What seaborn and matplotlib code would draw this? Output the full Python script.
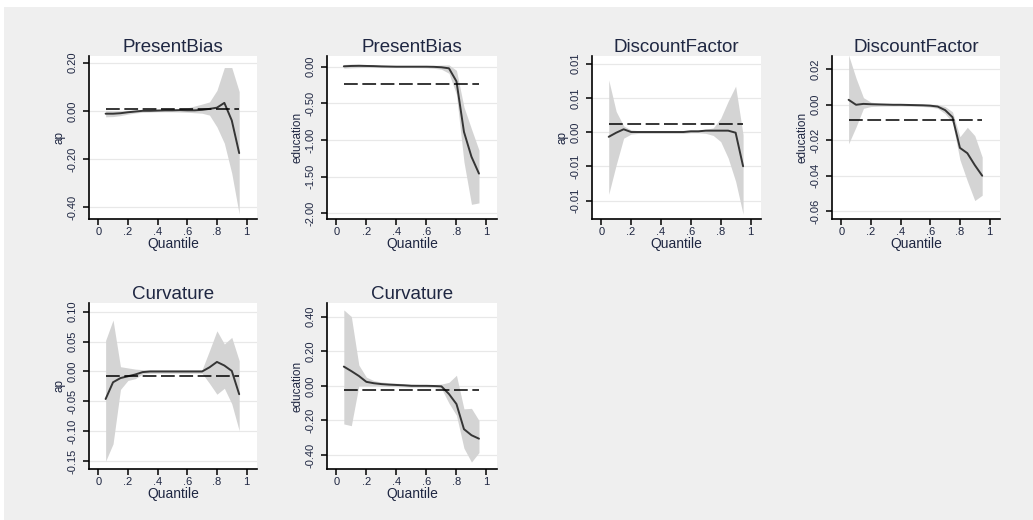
import numpy as np
import pandas as pd
import matplotlib
matplotlib.use("Agg")
import matplotlib.pyplot as plt
from matplotlib.patches import Rectangle
import seaborn as sns

# ---------------- data ----------------
quantiles = [0.05, 0.10, 0.15, 0.20, 0.25, 0.30, 0.35, 0.40, 0.45, 0.50,
             0.55, 0.60, 0.65, 0.70, 0.75, 0.80, 0.85, 0.90, 0.95]

titles = ["PresentBias", "PresentBias", "DiscountFactor", "DiscountFactor",
          "Curvature", "Curvature"]
ylabels = ["ap", "education", "ap", "education", "ap", "education"]

# Panel 1: ap, PresentBias
pb_ap_est = [-0.012, -0.012, -0.010, -0.006, -0.003, 0.000, 0.000, 0.001, 0.002, 0.002,
             0.003, 0.002, 0.002, 0.004, 0.008, 0.013, 0.033, -0.040, -0.176]
pb_ap_lo = [-0.025, -0.024, -0.020, -0.014, -0.009, -0.006, -0.005, -0.004, -0.004, -0.004,
            -0.005, -0.006, -0.008, -0.010, -0.018, -0.067, -0.135, -0.260, -0.430]
pb_ap_hi = [0.002, 0.000, 0.001, 0.002, 0.003, 0.005, 0.006, 0.007, 0.008, 0.009,
            0.010, 0.012, 0.020, 0.028, 0.037, 0.085, 0.180, 0.180, 0.080]
pb_ap_ols = 0.008

# Panel 2: education, PresentBias
pb_ed_est = [0.005, 0.010, 0.012, 0.010, 0.008, 0.004, 0.002, 0.000, 0.000, 0.000,
             0.000, 0.000, -0.002, -0.008, -0.022, -0.200, -0.890, -1.230, -1.460]
pb_ed_lo = [-0.020, -0.015, -0.012, -0.010, -0.010, -0.010, -0.012, -0.012, -0.012, -0.012,
            -0.013, -0.015, -0.022, -0.035, -0.090, -0.380, -1.300, -1.880, -1.860]
pb_ed_hi = [0.030, 0.035, 0.035, 0.030, 0.025, 0.020, 0.015, 0.012, 0.012, 0.012,
            0.013, 0.015, 0.018, 0.022, 0.025, -0.050, -0.550, -0.850, -1.140]
pb_ed_ols = -0.24

# Panel 3: ap, DiscountFactor
df_ap_est = [-0.0007, -0.0001, 0.0004, 0.0000, 0.0000, 0.0000, 0.0000, 0.0000, 0.0000, 0.0000,
             0.0000, 0.0001, 0.0001, 0.0002, 0.0002, 0.0002, 0.0002, -0.0001, -0.0050]
df_ap_lo = [-0.0091, -0.0048, -0.0009, -0.0003, -0.0002, -0.0002, -0.0002, -0.0002, -0.0002, -0.0002,
            -0.0002, -0.0001, -0.0001, -0.0002, -0.0005, -0.0014, -0.0038, -0.0072, -0.0120]
df_ap_hi = [0.0076, 0.0030, 0.0009, 0.0003, 0.0002, 0.0002, 0.0002, 0.0002, 0.0002, 0.0002,
            0.0002, 0.0003, 0.0003, 0.0004, 0.0006, 0.0020, 0.0045, 0.0067, -0.0004]
df_ap_ols = 0.0011

# Panel 4: education, DiscountFactor
df_ed_est = [0.0028, 0.0000, 0.0005, 0.0003, 0.0002, 0.0001, 0.0000, 0.0000, -0.0001, -0.0002,
             -0.0003, -0.0005, -0.0010, -0.0030, -0.0070, -0.0243, -0.0273, -0.0340, -0.0400]
df_ed_lo = [-0.0220, -0.0125, -0.0020, -0.0010, -0.0008, -0.0007, -0.0007, -0.0007, -0.0008, -0.0009,
            -0.0010, -0.0013, -0.0020, -0.0050, -0.0100, -0.0310, -0.0430, -0.0540, -0.0510]
df_ed_hi = [0.0280, 0.0150, 0.0040, 0.0015, 0.0010, 0.0008, 0.0007, 0.0007, 0.0006, 0.0005,
            0.0004, 0.0003, 0.0002, -0.0010, -0.0040, -0.0180, -0.0127, -0.0174, -0.0295]
df_ed_ols = -0.0086

# Panel 5: ap, Curvature
cu_ap_est = [-0.046, -0.018, -0.011, -0.008, -0.005, -0.001, 0.000, 0.000, 0.000, 0.000,
             0.000, 0.000, 0.000, 0.000, 0.007, 0.016, 0.010, 0.001, -0.038]
cu_ap_lo = [-0.150, -0.121, -0.030, -0.015, -0.012, -0.004, -0.003, -0.003, -0.003, -0.003,
            -0.003, -0.003, -0.003, -0.003, -0.020, -0.038, -0.028, -0.054, -0.099]
cu_ap_hi = [0.052, 0.086, 0.008, 0.006, 0.004, 0.003, 0.003, 0.003, 0.003, 0.003,
            0.003, 0.003, 0.003, 0.003, 0.035, 0.068, 0.046, 0.057, 0.018]
cu_ap_ols = -0.007

# Panel 6: education, Curvature
cu_ed_est = [0.111, 0.085, 0.057, 0.023, 0.015, 0.010, 0.007, 0.005, 0.003, 0.000,
             0.000, 0.000, -0.001, -0.003, -0.047, -0.105, -0.250, -0.285, -0.305]
cu_ed_lo = [-0.220, -0.230, 0.000, 0.000, 0.000, -0.002, -0.004, -0.005, -0.006, -0.008,
            -0.008, -0.008, -0.010, -0.015, -0.100, -0.170, -0.360, -0.440, -0.385]
cu_ed_hi = [0.438, 0.400, 0.120, 0.050, 0.030, 0.022, 0.018, 0.015, 0.012, 0.010,
            0.008, 0.008, 0.008, 0.010, 0.020, 0.061, -0.133, -0.130, -0.200]
cu_ed_ols = -0.025

x_ticks = [0, 0.2, 0.4, 0.6, 0.8, 1.0]
x_ticklabels = ["0", ".2", ".4", ".6", ".8", "1"]

y_ticks = [
    [0.20, 0.00, -0.20, -0.40],
    [0.00, -0.50, -1.00, -1.50, -2.00],
    [0.010, 0.005, 0.000, -0.005, -0.010],
    [0.02, 0.00, -0.02, -0.04, -0.06],
    [0.10, 0.05, 0.00, -0.05, -0.10, -0.15],
    [0.40, 0.20, 0.00, -0.20, -0.40],
]
y_ticklabels = [
    ["0.20", "0.00", "-0.20", "-0.40"],
    ["0.00", "-0.50", "-1.00", "-1.50", "-2.00"],
    ["0.01", "0.01", "0.00", "-0.01", "-0.01"],
    ["0.02", "0.00", "-0.02", "-0.04", "-0.06"],
    ["0.10", "0.05", "0.00", "-0.05", "-0.10", "-0.15"],
    ["0.40", "0.20", "0.00", "-0.20", "-0.40"],
]
y_lims = [(-0.45, 0.228), (-2.08, 0.146), (-0.0127, 0.0111),
          (-0.0644, 0.0275), (-0.163, 0.1145), (-0.48, 0.478)]

panels = [
    (pb_ap_est, pb_ap_lo, pb_ap_hi, pb_ap_ols),
    (pb_ed_est, pb_ed_lo, pb_ed_hi, pb_ed_ols),
    (df_ap_est, df_ap_lo, df_ap_hi, df_ap_ols),
    (df_ed_est, df_ed_lo, df_ed_hi, df_ed_ols),
    (cu_ap_est, cu_ap_lo, cu_ap_hi, cu_ap_ols),
    (cu_ed_est, cu_ed_lo, cu_ed_hi, cu_ed_ols),
]

# ---------------- style ----------------
sns.set_theme(style="white")
plt.rcParams["font.family"] = ["Liberation Sans", "DejaVu Sans"]

W, H = 1033, 520
fig = plt.figure(figsize=(W / 100, H / 100), dpi=100)
fig.patch.set_facecolor("white")
bg = Rectangle((4 / W, 0), 1, 1 - 7 / H, transform=fig.transFigure,
               facecolor="#efefef", edgecolor="none", zorder=-10)
fig.patches.append(bg)

# axes rects in pixels: (left, right, top, bottom)
rects_px = [(89, 257, 56, 219), (327, 497, 56, 219), (592, 761, 56, 219), (832, 1000, 56, 219),
            (89, 257, 303, 469), (327, 497, 303, 469)]

text_col = "#1f2742"
line_col = "#353535"
band_col = "#d4d4d4"

for i, (rect, (est, lo, hi, ols)) in enumerate(zip(rects_px, panels)):
    l, r, t, b = rect
    ax = fig.add_axes([l / W, 1 - b / H, (r - l) / W, (b - t) / H])
    ax.set_zorder(1)
    ax.set_facecolor("white")
    d = pd.DataFrame({"Quantile": quantiles, "est": est, "lo": lo, "hi": hi})
    ax.fill_between(d["Quantile"], d["lo"], d["hi"], color=band_col, lw=0, zorder=2)
    sns.lineplot(data=d, x="Quantile", y="est", ax=ax, color=line_col, lw=1.4, zorder=4)
    ax.hlines(ols, quantiles[0], quantiles[-1], colors="black", lw=1.1,
              linestyles=(0, (9, 3)), zorder=5)

    ax.set_xlim(-0.062, 1.07)
    ax.set_ylim(*y_lims[i])
    ax.set_xticks(x_ticks, x_ticklabels, fontsize=8, color=text_col)
    ax.set_yticks(y_ticks[i], y_ticklabels[i], fontsize=8, color=text_col,
                  rotation=90, va="center")
    ax.grid(axis="y", color="#e8e8e8", lw=0.9, zorder=0)
    ax.grid(axis="x", visible=False)
    for s in ["top", "right"]:
        ax.spines[s].set_visible(False)
    for s in ["left", "bottom"]:
        ax.spines[s].set_color("black")
        ax.spines[s].set_linewidth(1.2)
    ax.tick_params(axis="both", direction="out", length=4, width=1.1, color="black",
                   left=True, bottom=True, pad=2)
    ax.tick_params(axis="y", pad=4)
    ax.set_xlabel("Quantile", fontsize=10, color=text_col, labelpad=0)
    ax.set_ylabel(ylabels[i], fontsize=8.5, color=text_col, labelpad=2)
    ax.set_title(titles[i], fontsize=13.5, color=text_col, pad=3)

fig.savefig("out.png", dpi=100, facecolor=fig.get_facecolor())
